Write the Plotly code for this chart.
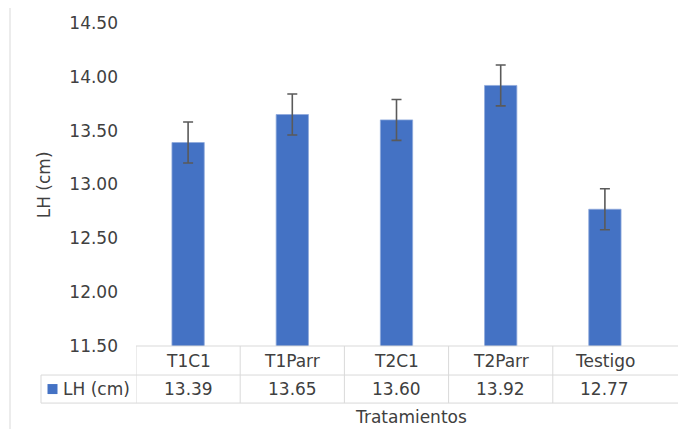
import plotly.graph_objects as go

categories = ["T1C1", "T1Parr", "T2C1", "T2Parr", "Testigo"]
values = [13.39, 13.65, 13.60, 13.92, 12.77]
errors = [0.19, 0.19, 0.19, 0.19, 0.19]
value_labels = ["13.39", "13.65", "13.60", "13.92", "12.77"]
series_name = "LH (cm)"
y_tick_vals = [11.5, 12.0, 12.5, 13.0, 13.5, 14.0, 14.5]
y_tick_text = ["11.50", "12.00", "12.50", "13.00", "13.50", "14.00", "14.50"]

FONT = "DejaVu Sans"
FS = 17
TXT = "#404040"
GRID = "#d9d9d9"
BLUE = "#4472C4"

W, H = 686, 429
OFF = 8  # default page body margin
# plot area in page pixels
P_L, P_R, P_T, P_B = 136, 657, 23.4, 346
ML = P_L - OFF
MR = W - (P_R - OFF)
MT = P_T - OFF
MB = H - (P_B - OFF)
pw = P_R - P_L
ph = P_B - P_T

def py(y):  # page pixel y -> paper y
    return (P_B - y) / ph

def px(x):  # page pixel x -> paper x
    return (x - P_L) / pw

fig = go.Figure()
fig.add_trace(go.Bar(
    x=categories, y=values, name=series_name,
    width=0.31,
    marker=dict(color=BLUE, line=dict(color="#8faadc", width=0.8)),
    error_y=dict(type="data", array=errors, visible=True,
                 color="#5a5a5a", thickness=1.6, width=5),
))

shapes = []
line = dict(color=GRID, width=1)
row1_top = py(346)
row1_bot = py(375)
row2_bot = py(403)
right = px(686 + 10)
left_leg = px(41)
shapes.append(dict(type="line", xref="paper", yref="paper", x0=0, x1=right, y0=row1_top, y1=row1_top, line=line))
shapes.append(dict(type="line", xref="paper", yref="paper", x0=left_leg, x1=right, y0=row1_bot, y1=row1_bot, line=line))
shapes.append(dict(type="line", xref="paper", yref="paper", x0=left_leg, x1=right, y0=row2_bot, y1=row2_bot, line=line))
shapes.append(dict(type="line", xref="paper", yref="paper", x0=left_leg, x1=left_leg, y0=row1_bot, y1=row2_bot, line=line))
for i in range(len(categories)):
    xb = i - 0.5
    shapes.append(dict(type="line", xref="x", yref="paper", x0=xb, x1=xb, y0=row1_top, y1=row2_bot, line=line))
# chart area left border
shapes.append(dict(type="line", xref="paper", yref="paper", x0=px(10), x1=px(10),
                   y0=py(0), y1=py(440), line=dict(color="#d9d9d9", width=1)))
# legend key
shapes.append(dict(type="rect", xref="paper", yref="paper",
                   x0=px(47.5), x1=px(57.5), y0=py(394), y1=py(384),
                   fillcolor=BLUE, line=dict(width=0)))

tf = dict(family=FONT, size=FS, color=TXT)
annotations = []
mid_row1 = py(360.5)
mid_row2 = py(389)
for c, lab in zip(categories, value_labels):
    annotations.append(dict(x=c, y=mid_row1, xref="x", yref="paper", text=c, showarrow=False,
                            font=tf, yanchor="middle"))
    annotations.append(dict(x=c, y=mid_row2, xref="x", yref="paper", text=lab, showarrow=False,
                            font=tf, yanchor="middle"))
annotations.append(dict(x=px(60.5), y=mid_row2, xref="paper", yref="paper", text=series_name,
                        showarrow=False, xanchor="left", yanchor="middle", font=tf))
annotations.append(dict(x=px(411), y=py(417), xref="paper", yref="paper", text="Tratamientos",
                        showarrow=False, xanchor="center", yanchor="middle", font=tf))
annotations.append(dict(x=px(43.5), y=py(185), xref="paper", yref="paper", text="LH (cm)",
                        showarrow=False, textangle=-90, xanchor="center", yanchor="middle", font=tf))

fig.update_layout(
    width=W, height=H,
    margin=dict(l=ML, r=MR, t=MT, b=MB, autoexpand=False),
    paper_bgcolor="white", plot_bgcolor="white",
    showlegend=False,
    font=tf,
    shapes=shapes, annotations=annotations,
    xaxis=dict(showgrid=False, showline=False, zeroline=False, ticks="",
               showticklabels=False, range=[-0.5, 4.5]),
    yaxis=dict(range=[11.5, 14.5], tickvals=y_tick_vals, ticktext=y_tick_text,
               showgrid=False, showline=False, zeroline=False, ticks="",
               tickfont=tf, ticklabelstandoff=17),
)

fig.write_html("out.html")
